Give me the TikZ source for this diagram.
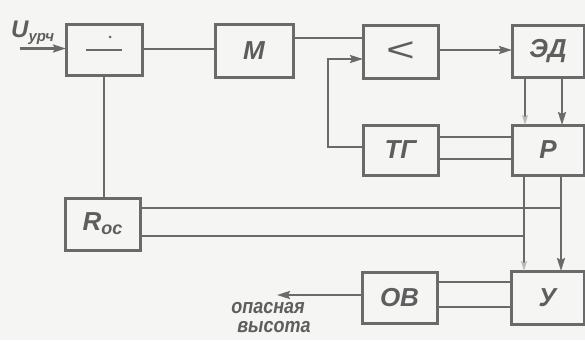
\documentclass[tikz,border=0pt]{standalone}
\usepackage{fontspec}
\setmainfont{Liberation Sans}
\usetikzlibrary{arrows.meta}
\definecolor{ink}{HTML}{6A6A6A}
\definecolor{txt}{HTML}{5E5E5E}
\definecolor{paper}{HTML}{F5F5F3}
\tikzset{
  blk/.style={draw=ink, line width=3pt, fill=paper, inner sep=0pt, outer sep=0pt,
    text=txt, font=\fontsize{26}{26}\selectfont\bfseries\itshape},
  wire/.style={draw=ink, line width=2.2pt},
  arr/.style={wire, -{Stealth[length=13pt, width=8pt, inset=2pt]}},
  farr/.style={wire, -{Stealth[length=10pt, width=6pt, inset=2pt, color=ink!45]}},
  lbl/.style={text=txt, inner sep=0pt, font=\bfseries\itshape}
}
\begin{document}
\begin{tikzpicture}[x=1pt, y=-1pt]
\fill[paper] (0,0) rectangle (585,340);
\useasboundingbox (0,0) rectangle (585,340);
% blocks
\node[blk, minimum width=76pt, minimum height=51pt] (b1) at (104,49.5) {};
\node[blk, minimum width=78pt, minimum height=53pt] (m) at (254,50.5) {М};
\node[blk, minimum width=75pt, minimum height=53pt] (cmp) at (400.5,51.5) {\scalebox{1.45}[1]{\fontsize{34}{34}\selectfont\mdseries\upshape <}};
\node[blk, minimum width=72pt, minimum height=52pt] (ed) at (548,51) {ЭД};
\node[blk, minimum width=75pt, minimum height=50pt] (tg) at (400.5,150) {ТГ};
\node[blk, minimum width=72pt, minimum height=50pt] (p) at (548,150) {Р};
\node[blk, minimum width=75pt, minimum height=52pt] (roc) at (102.5,224) {R\raisebox{-4pt}{\fontsize{18}{18}\selectfont ос}};
\node[blk, minimum width=75pt, minimum height=51pt] (ov) at (399.5,297.5) {ОВ};
\node[blk, minimum width=73pt, minimum height=53pt] (u) at (547.5,297.5) {У};
% symbol inside b1
\draw[ink, line width=2.2pt] (86,50) -- (122,50);
\fill[ink] (110,37) circle (1.5pt);
% input
\coordinate (in) at (20,48.5);
\draw[arr] (in) -- (in -| b1.west);
\node[lbl, anchor=base west] (ulab) at (11,37) {\fontsize{24}{24}\selectfont U\raisebox{-4pt}{\fontsize{15}{15}\selectfont урч}};
% b1 -> M
\draw[wire] (b1.east |- 0,49) -- (m.west |- 0,49);
% M -> cmp
\draw[wire] (m.east |- 0,38) -- (cmp.west |- 0,38);
% TG -> cmp
\coordinate (fb) at (328,147);
\draw[arr] (tg.west |- fb) -- (fb) -- (328,59) -- (cmp.west |- 0,59);
% cmp -> ED
\draw[arr] (cmp.east |- 0,50) -- (ed.west |- 0,50);
% ED -> P
\draw[farr] (ed.south -| 525,0) -- (p.north -| 525,0);
\draw[arr] (ed.south -| 562,0) -- (p.north -| 562,0);
% TG -- P
\draw[wire] (tg.east |- 0,137) -- (p.west |- 0,137);
\draw[wire] (tg.east |- 0,159) -- (p.west |- 0,159);
% P -> U
\draw[farr] (p.south -| 524,0) -- (u.north -| 524,0);
\draw[arr] (p.south -| 561,0) -- (u.north -| 561,0);
% Roc lines
\coordinate (j1) at (561,208);
\coordinate (j2) at (524,236);
\draw[wire] (roc.east |- j1) -- (j1);
\draw[wire] (roc.east |- j2) -- (j2);
% b1 -- Roc
\draw[wire] (b1.south -| 104,0) -- (roc.north -| 104,0);
% OV -- U
\draw[wire] (ov.east |- 0,282) -- (u.west |- 0,282);
\draw[wire] (ov.east |- 0,307) -- (u.west |- 0,307);
% output
\coordinate (out) at (277,295);
\draw[arr] (ov.west |- out) -- (out);
\node[lbl] (t1) at (268,308) {\scalebox{1}[1.15]{\fontsize{18}{18}\selectfont опасная}};
\node[lbl] (t2) at (274,327) {\scalebox{1}[1.15]{\fontsize{18}{18}\selectfont высота}};
\end{tikzpicture}
\end{document}
